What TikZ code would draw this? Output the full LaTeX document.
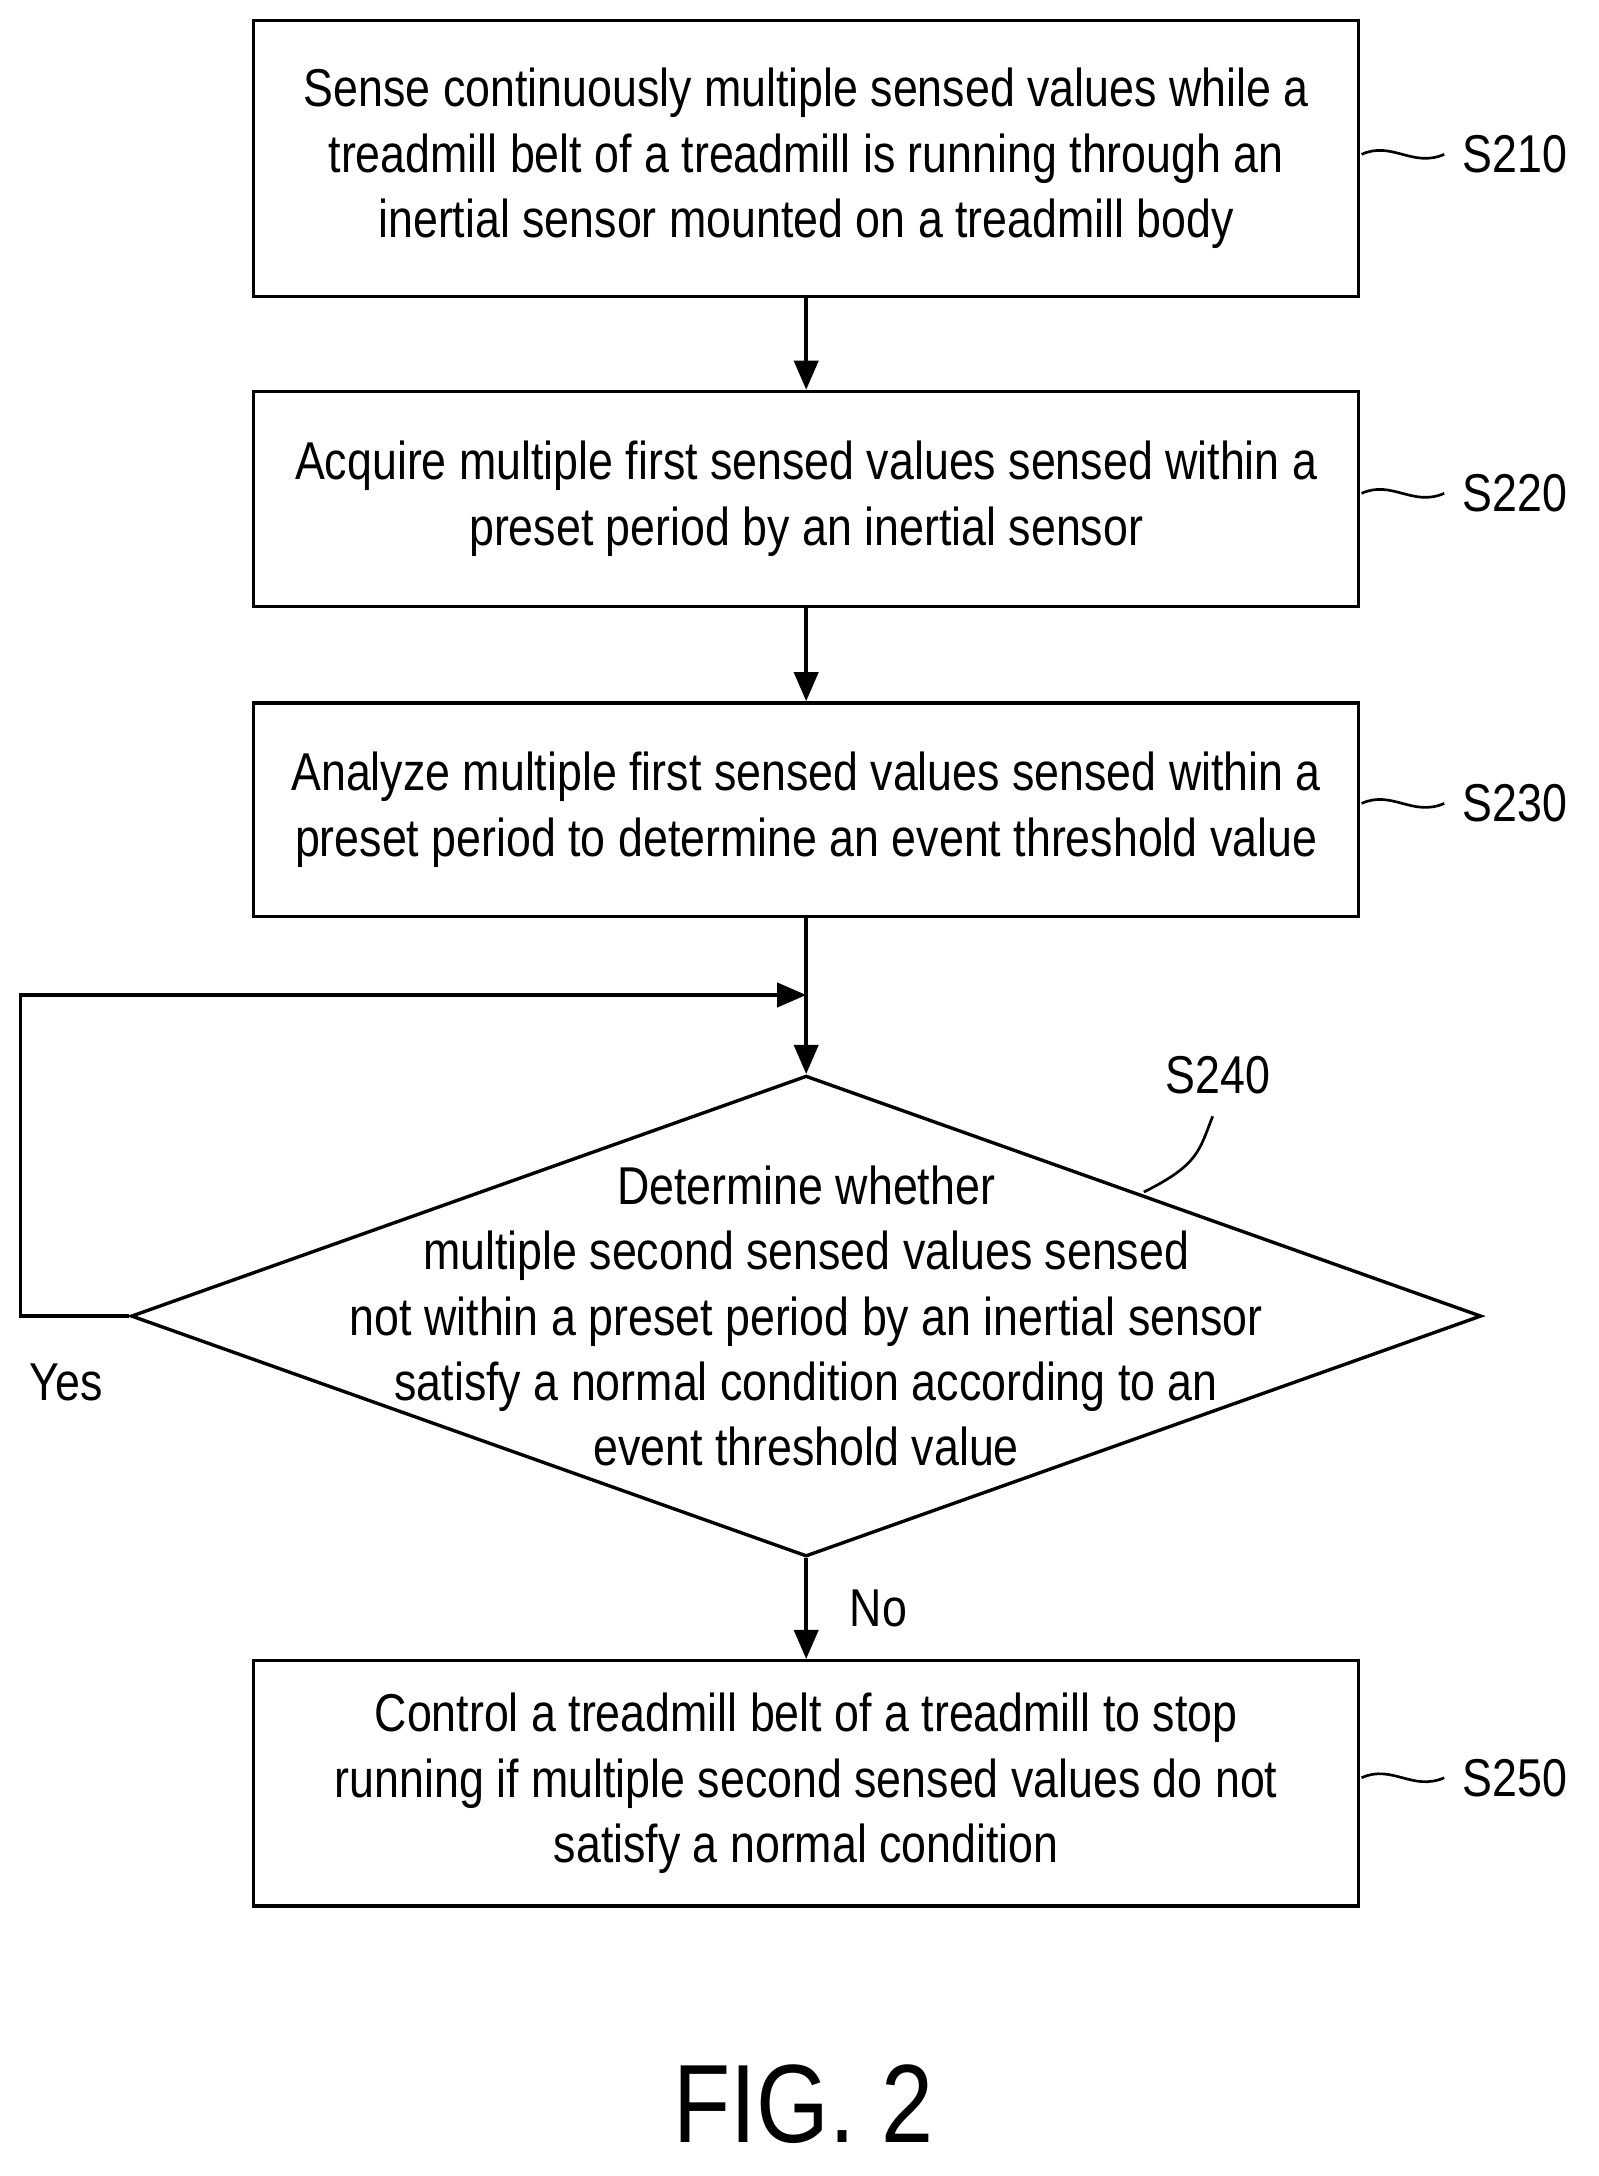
\documentclass[tikz,border=0pt]{standalone}
\usepackage{fontspec}
\setmainfont{Liberation Sans}[FakeStretch=0.84]
\usetikzlibrary{shapes.geometric,arrows.meta}
\tikzset{
  stepbox/.style={draw, line width=1.4pt, minimum width=16.04cm, align=center,
    font=\fontsize{22}{27}\selectfont, inner sep=0pt},
  lbl/.style={font=\fontsize{22}{27}\selectfont},
  flow/.style={-{Triangle[length=12pt,width=10pt]}, line width=1.4pt},
  tag/.style={line width=1.1pt}
}
\begin{document}
\begin{tikzpicture}[x=0.02cm,y=-0.02cm]
  \useasboundingbox (0,0) rectangle (1160,1579);
  % process steps
  \node[stepbox, minimum height=4cm] (S210) at (585,115) {Sense continuously multiple sensed values while a\\treadmill belt of a treadmill is running through an\\inertial sensor mounted on a treadmill body};
  \node[stepbox, minimum height=3.12cm] (S220) at (585,362) {Acquire multiple first sensed values sensed within a\\preset period by an inertial sensor};
  \node[stepbox, minimum height=3.1cm] (S230) at (585,587.5) {Analyze multiple first sensed values sensed within a\\preset period to determine an event threshold value};
  \node[diamond, draw, line width=1.4pt, minimum width=19.6cm, minimum height=6.98cm, inner sep=0pt] (S240) at (585,955) {};
  \node[align=center, lbl] (S240t) at (585,955) {Determine whether\\multiple second sensed values sensed\\not within a preset period by an inertial sensor\\satisfy a normal condition according to an\\event threshold value};
  \node[stepbox, minimum height=3.56cm] (S250) at (585,1294) {Control a treadmill belt of a treadmill to stop\\running if multiple second sensed values do not\\satisfy a normal condition};

  \draw[flow] (S210) -- (S220);
  \draw[flow] (S220) -- (S230);
  \draw[flow] (S230) -- (S240.north);
  \draw[flow] (S240.south) -- node[lbl, right=14pt] {No} (S250);

  %% loop back
  \coordinate (L1) at (15,955);
  \coordinate (L2) at (15,722);
  \coordinate (L3) at (585,722);
  \draw[flow] (S240.west) -- (L1) -- (L2) -- (L3);
  \node[lbl] (yes) at (48,1003) {Yes};

  %% step tags
  \foreach \s/\y in {S210/112,S220/358,S230/583,S250/1290}{
    \node[lbl, anchor=west] (\s l) at (1055,\y) {\s};
    \draw[tag] (988,\y) .. controls (1010,\y-10) and (1025,\y+10) .. (1048,\y);
  }
  \node[lbl] (S240l) at (884,780) {S240};
  \draw[tag] (830,865) .. controls (870,845) and (870,835) .. (880,810);

  \node[font=\fontsize{46}{50}\selectfont] (fig) at (583,1527) {FIG. 2};
\end{tikzpicture}
\end{document}
